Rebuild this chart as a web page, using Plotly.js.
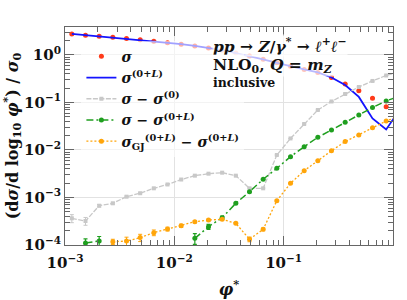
<!DOCTYPE html>
<html>
<head>
<meta charset="utf-8">
<script src="https://cdn.plot.ly/plotly-3.0.1.min.js"></script>
<style>html,body{margin:0;padding:0;background:#fff;}#chart{width:407px;height:300px;}</style>
</head>
<body>
<div id="chart"></div>
<script>
// bin centres in phi*
const phi = [0.001155, 0.001540, 0.002054, 0.002738, 0.003652, 0.004870, 0.006494, 0.008660,
             0.01155, 0.01540, 0.02054, 0.02738, 0.03652, 0.04870, 0.06494, 0.08660,
             0.1155, 0.1540, 0.2054, 0.2738, 0.3652, 0.4870, 0.6494, 0.8660, 1.155];

// sigma (full)
const sigma = [2.77, 2.61, 2.49, 2.36, 2.22, 2.09, 1.95, 1.82, 1.69, 1.55, 1.40, 1.26, 1.10,
               0.953, 0.81, 0.685, 0.578, 0.495, 0.428, 0.336, 0.245, 0.177, 0.123, 0.0816, null];
const sigmaErr = [0.02, 0.02, 0.02, 0.02, 0.02, 0.02, 0.02, 0.02, 0.02, 0.02, 0.02, 0.02, 0.02,
                  0.01, 0.01, 0.01, 0.01, 0.01, 0.01, 0.005, 0.005, 0.004, 0.003, 0.002, null];
// sigma^(0+L)
const sigmaL = [2.77, 2.61, 2.49, 2.36, 2.22, 2.09, 1.95, 1.82, 1.69, 1.55, 1.40, 1.26, 1.10,
                0.953, 0.81, 0.685, 0.578, 0.495, 0.428, 0.336, 0.233, 0.131, 0.046, 0.027, 0.0712];
// sigma - sigma^(0)
const diff0 = [3.65e-4, 3.20e-4, 6.71e-4, 7.55e-4, 1.04e-3, 1.23e-3, 1.56e-3, 1.88e-3, 2.39e-3,
               2.88e-3, 3.17e-3, 3.33e-3, 2.88e-3, 1.56e-3, 1.56e-3, 7.85e-3, 0.0175, 0.0353,
               0.0695, 0.105, 0.151, 0.212, 0.284, 0.370, 0.44];
const diff0Err = [7e-5, 6e-5, 4e-5, 3e-5, 3e-5, 3e-5, 3e-5, 3e-5, 3e-5, 3e-5, 3e-5, 3e-5, 3e-5,
                  3e-5, 3e-5, 5e-5, 1e-4, 1e-4, 1e-4, 1e-4, 1e-4, 1e-4, 1e-4, 1e-4, 1e-4];
// sigma - sigma^(0+L)
const diffL = [null, 1.10e-4, 1.21e-4, null, null, null, null, null, null, 1.38e-4, 2.43e-4,
               3.75e-4, 7.55e-4, 1.32e-3, 2.42e-3, 4.12e-3, 7.23e-3, 0.0117, 0.0185, 0.0264,
               0.0383, 0.0545, 0.0785, 0.108, 0.137];
const diffLErr = [null, 2.5e-5, 3e-5, null, null, null, null, null, null, 3.5e-5, 3e-5, 3e-5,
                  3e-5, 3e-5, 3e-5, 3e-5, 5e-5, 5e-5, 5e-5, 5e-5, 5e-5, 5e-5, 5e-5, 5e-5, 5e-5];
// sigma_GJ^(0+L) - sigma^(0+L)
const diffGJ = [null, null, null, 1.17e-4, 1.21e-4, 1.43e-4, 1.82e-4, 2.17e-4, 2.55e-4, 3.09e-4,
                3.36e-4, 3.47e-4, 2.86e-4, 1.32e-4, 2.14e-4, 8.57e-4, 1.99e-3, 3.66e-3, 5.95e-3,
                9.66e-3, 0.0150, 0.0207, 0.0294, 0.0408, 0.052];
const diffGJErr = [null, null, null, 1.5e-5, 2.5e-5, 2.5e-5, 2.5e-5, 2e-5, 2e-5, 1.5e-5, 1.5e-5,
                   1.5e-5, 1.5e-5, 1.5e-5, 1.5e-5, 3e-5, 5e-5, 5e-5, 5e-5, 5e-5, 5e-5, 5e-5, 5e-5, 5e-5, 5e-5];

const names = [
  '<b><i>σ</i></b>',
  '<b><i>σ</i><sup>(0+<i>L</i>)</sup></b>',
  '<b><i>σ</i> − <i>σ</i><sup>(0)</sup></b>',
  '<b><i>σ</i> − <i>σ</i><sup>(0+<i>L</i>)</sup></b>',
  '<b><i>σ</i><sub>GJ</sub><sup>(0+<i>L</i>)</sup> − <i>σ</i><sup>(0+<i>L</i>)</sup></b>'
];
const xTickVals = [0.001, 0.01, 0.1, 1];
const xTickText = ['<b>10<sup>−3</sup></b>', '<b>10<sup>−2</sup></b>', '<b>10<sup>−1</sup></b>', '<b>10<sup>0</sup></b>'];
const yTickVals = [1e-4, 1e-3, 1e-2, 1e-1, 1];
const yTickText = ['<b>10<sup>−4</sup></b>', '<b>10<sup>−3</sup></b>', '<b>10<sup>−2</sup></b>', '<b>10<sup>−1</sup></b>', '<b>10<sup>0</sup></b>'];

function minorVals(lo, hi) {
  const v = [];
  for (let e = lo; e < hi; e++) for (let m = 2; m <= 9; m++) v.push(m * Math.pow(10, e));
  return v;
}

const RED = '#ff3b1a', BLUE = '#1414ff', GRAY = '#c8c8c8', GREEN = '#1f9f1f', ORANGE = '#ffa50a';
const FONT = 'DejaVu Serif, serif';

const traces = [
  {x: phi, y: sigma, name: names[0], type: 'scatter', mode: 'markers',
   marker: {color: RED, size: 5},
   error_y: {type: 'data', array: sigmaErr, color: RED, thickness: 1, width: 2}},
  {x: phi, y: sigmaL, name: names[1], type: 'scatter', mode: 'lines',
   line: {color: BLUE, width: 1.8}},
  {x: phi, y: diff0, name: names[2], type: 'scatter', mode: 'lines+markers',
   line: {color: GRAY, width: 1.3, dash: '5px,1.5px'},
   marker: {color: GRAY, size: 4, symbol: 'square'},
   error_y: {type: 'data', array: diff0Err, color: GRAY, thickness: 1, width: 2}},
  {x: phi, y: diffL, name: names[3], type: 'scatter', mode: 'lines+markers',
   line: {color: GREEN, width: 1.5, dash: '7px,3px,2px,3px'},
   marker: {color: GREEN, size: 5},
   error_y: {type: 'data', array: diffLErr, color: GREEN, thickness: 1.2, width: 2}},
  {x: phi, y: diffGJ, name: names[4], type: 'scatter', mode: 'lines+markers',
   line: {color: ORANGE, width: 1.3, dash: '2px,2px'},
   marker: {color: ORANGE, size: 5},
   error_y: {type: 'data', array: diffGJErr, color: ORANGE, thickness: 1, width: 2}}
];

const axisCommon = {
  type: 'log', showline: true, linecolor: '#666', linewidth: 1, mirror: 'allticks',
  ticks: 'inside', ticklen: 9, tickcolor: '#666', tickwidth: 1,
  showgrid: true, gridcolor: '#e2e2e2', gridwidth: 1, zeroline: false,
  tickmode: 'array', tickfont: {family: FONT, size: 15, color: '#111'}
};

const layout = {
  width: 407, height: 300,
  margin: {l: 65, r: 14, t: 27, b: 55},
  paper_bgcolor: '#fff', plot_bgcolor: '#fff',
  showlegend: true,
  legend: {x: 0.05, y: 0.937, xanchor: 'left', yanchor: 'top',
           bgcolor: 'rgba(255,255,255,0.6)', borderwidth: 0,
           font: {family: FONT, size: 14, color: '#111'}, tracegroupgap: 0},
  xaxis: Object.assign({}, axisCommon, {
    range: [-3, 0], tickvals: xTickVals, ticktext: xTickText, ticklabelstandoff: 4,
    minor: {tickvals: minorVals(-3, 0), ticks: 'inside', ticklen: 5, tickcolor: '#666', showgrid: false},
    title: {text: '<b><i>φ</i><sup>*</sup></b>', font: {family: FONT, size: 16, color: '#111'}, standoff: 12}
  }),
  yaxis: Object.assign({}, axisCommon, {
    range: [-4, 0.589], tickvals: yTickVals, ticktext: yTickText,
    minor: {tickvals: minorVals(-4, 1), ticks: 'inside', ticklen: 5, tickcolor: '#666', showgrid: false},
    title: {text: '<b>(d<i>σ</i>/d log<sub>10</sub> <i>φ</i><sup>*</sup>) / <i>σ</i><sub>0</sub></b>',
            font: {family: FONT, size: 16, color: '#111'}, standoff: 4}
  }),
  annotations: [
    {xref: 'paper', yref: 'paper', x: 0.448, y: 0.915, xanchor: 'left', yanchor: 'middle', showarrow: false,
     text: '<b><i>pp</i> → <i>Z</i>/<i>γ</i><sup>*</sup> → <i>ℓ</i><sup>+</sup><i>ℓ</i><sup>−</sup></b>',
     font: {family: FONT, size: 15.5, color: '#111'}, bgcolor: 'rgba(255,255,255,0.7)', borderpad: 0},
    {xref: 'paper', yref: 'paper', x: 0.448, y: 0.822, xanchor: 'left', yanchor: 'middle', showarrow: false,
     text: '<b>NLO<sub>0</sub>, <i>Q</i> = <i>m<sub>Z</sub></i></b>',
     font: {family: FONT, size: 15.5, color: '#111'}, bgcolor: 'rgba(255,255,255,0.7)', borderpad: 0},
    {xref: 'paper', yref: 'paper', x: 0.448, y: 0.744, xanchor: 'left', yanchor: 'middle', showarrow: false,
     text: '<b>inclusive</b>',
     font: {family: FONT, size: 12.5, color: '#111'}, bgcolor: 'rgba(255,255,255,0.7)', borderpad: 0}
  ]
};

Plotly.newPlot('chart', traces, layout, {staticPlot: true, displayModeBar: false});
</script>
</body>
</html>
